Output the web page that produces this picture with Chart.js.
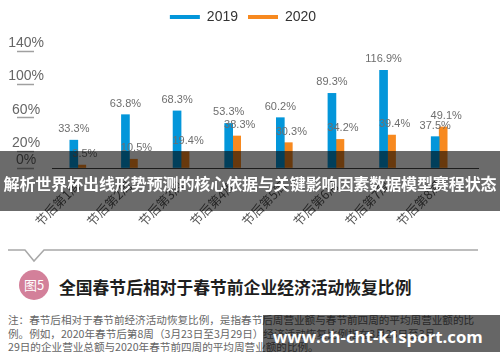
<!DOCTYPE html>
<html>
<head>
<meta charset="utf-8">
<script src="https://cdn.jsdelivr.net/npm/chart.js@4"></script>
<style>
  body { margin: 0; background: #fff; font-family: "Noto Sans CJK SC", sans-serif; }
  #wrap { position: relative; width: 500px; height: 362px; overflow: hidden; }
  #box { position: absolute; left: 0; top: 0; width: 500px; height: 238px; }
  .band { position: absolute; left: 0; top: 151px; width: 500px; height: 60px; background: rgba(0,0,0,0.58);
          color: #fff; font-weight: bold; font-size: 16px; line-height: 64px; text-align: center; white-space: nowrap; letter-spacing: -0.1px; }
  .rule { position: absolute; left: 0; top: 240px; }
  .badge { position: absolute; left: 19px; top: 270px; width: 30px; height: 30px; border-radius: 50%; background: #d3809a;
           color: #fff; font-size: 13px; line-height: 30px; text-align: center; }
  .title { position: absolute; left: 59px; top: 276px; font-size: 16.8px; font-weight: bold; color: #1e1e1e; white-space: nowrap; line-height: 22px; }
  .note { position: absolute; left: 8px; top: 313px; font-size: 10.6px; color: #666; line-height: 13.5px; white-space: nowrap; }
  .site { position: absolute; left: 263px; top: 315px; width: 237px; height: 37px; background: rgba(0,0,0,0.6); overflow: hidden;
          color: #fff; font-weight: bold; font-size: 16.8px; line-height: 43px; font-family: "Open Sans", sans-serif; padding-left: 10px; box-sizing: border-box; white-space: nowrap; }
</style>
</head>
<body>
<div id="wrap">
  <div id="box"><canvas id="recoveryChart"></canvas></div>
  <div class="band">解析世界杯出线形势预测的核心依据与关键影响因素数据模型赛程状态</div>
  <svg class="rule" width="500" height="25"><polyline points="8,10 25,10 34,21 44,10 478,10" fill="none" stroke="#a8a8a8" stroke-width="1.5"/></svg>
  <div class="badge">图5</div>
  <div class="title">全国春节后相对于春节前企业经济活动恢复比例</div>
  <div class="note">注：春节后相对于春节前经济活动恢复比例，是指春节后周营业额与春节前四周的平均周营业额的比<br>例。例如，2020年春节后第8周（3月23日至3月29日）经济活动恢复比例指在3月23日至3月<br>29日的企业营业总额与2020年春节前四周的平均周营业额的比例。</div>
  <div class="site">www.ch-cht-k1sport.com</div>
</div>
<script>
// weeks after the Spring Festival
const weeks = ["节后第1周", "节后第2周", "节后第3周", "节后第4周", "节后第5周", "节后第6周", "节后第7周", "节后第8周"];
const values2019 = [33.3, 63.8, 68.3, 53.3, 60.2, 89.3, 116.9, 37.5];
const values2020 = [3.5, 10.5, 19.4, 38.3, 30.3, 34.2, 39.4, 49.1];
const yTicks = [0, 20, 60, 100, 140];

// value labels above each bar
const barLabels = {
  id: "barLabels",
  afterDatasetsDraw(chart) {
    const ctx = chart.ctx;
    ctx.save();
    ctx.font = "11px 'Liberation Sans', Arial";
    ctx.fillStyle = "#6e6e6e";
    ctx.textAlign = "center";
    ctx.textBaseline = "middle";
    chart.data.datasets.forEach((ds, d) => {
      chart.getDatasetMeta(d).data.forEach((bar, i) => {
        ctx.fillText(ds.data[i].toFixed(1) + "%", bar.x + (d == 1 ? 3 : 0), bar.y - 11);
      });
    });
    // the baseline runs a bit past the last group
    const x = chart.scales.x;
    ctx.strokeStyle = "#444";
    ctx.lineWidth = 1;
    ctx.beginPath();
    ctx.moveTo(x.right, x.top + 0.5);
    ctx.lineTo(x.right + 14, x.top + 0.5);
    ctx.stroke();
    ctx.restore();
  }
};

// extra room under the legend
const legendGap = {
  id: "legendGap",
  beforeInit(chart) {
    const fit = chart.legend.fit;
    chart.legend.fit = function () {
      fit.call(this);
      this.height += 17;
    };
  }
};

new Chart("recoveryChart", {
  type: "bar",
  data: {
    labels: weeks,
    datasets: [
      { label: "2019", data: values2019, backgroundColor: "#0396da", borderWidth: 0 },
      { label: "2020", data: values2020, backgroundColor: "#f7891f", borderWidth: 0 }
    ]
  },
  options: {
    responsive: true,
    maintainAspectRatio: false,
    animation: false,
    layout: { padding: { left: 0, right: 14, top: 0, bottom: 0 } },
    datasets: { bar: { barThickness: 8, categoryPercentage: 0.56 } },
    plugins: {
      tooltip: { enabled: false },
      legend: {
        labels: {
          boxWidth: 30,
          boxHeight: 4,
          padding: 10,
          color: "#333",
          font: { size: 14, family: "'Liberation Sans', Arial" }
        }
      }
    },
    scales: {
      x: {
        grid: { display: false },
        border: { display: true, color: "#444", width: 1 },
        ticks: {
          minRotation: 45,
          maxRotation: 45,
          padding: 2,
          color: "#555",
          font: { size: 12.5, family: "'Noto Sans CJK SC'" }
        },
        afterFit(scale) { scale.height = 70; }
      },
      y: {
        min: 0,
        max: 140,
        afterBuildTicks(scale) { scale.ticks = yTicks.map(v => ({ value: v })); },
        afterFit(scale) { scale.width = 52; },
        border: { display: false },
        grid: {
          drawOnChartArea: false,
          drawTicks: true,
          tickLength: 35,
          tickBorderDash: [17, 60],
          tickColor: "#a0a0a0",
          tickWidth: 1.5
        },
        ticks: {
          crossAlign: "center",
          padding: -27,
          labelOffset: -8,
          color: "#666",
          font: { size: 14, family: "'Liberation Sans', Arial" },
          callback: v => v + "%"
        }
      },
      // empty right margin axis, keeps the legend centred like the original
      yRight: {
        position: "right",
        grid: { display: false },
        border: { display: false },
        ticks: { display: false },
        afterFit(scale) { scale.width = 21; }
      }
    }
  },
  plugins: [barLabels, legendGap]
});
</script>
</body>
</html>
